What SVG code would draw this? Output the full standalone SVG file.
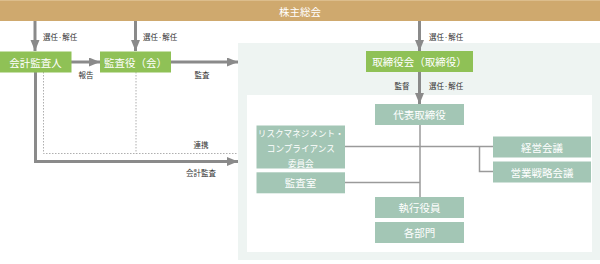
<svg xmlns="http://www.w3.org/2000/svg" width="600" height="264" viewBox="0 0 600 264">
<defs>
<marker id="ah" markerUnits="userSpaceOnUse" markerWidth="12" markerHeight="10" refX="11" refY="4.5" orient="auto">
<path d="M0,0 L11,4.5 L0,9 z" fill="#8a8a8a"/>
</marker>
<style>
.bt{font-family:"Noto Sans CJK JP","Noto Sans",sans-serif;fill:#fff;text-anchor:middle;dominant-baseline:central;font-size:10.5px}
.sm{font-size:8.6px}
.lb{font-family:"Noto Sans CJK JP","Noto Sans",sans-serif;fill:#333;font-size:7.5px;dominant-baseline:central}
.c{text-anchor:middle}
.g{fill:#8fc156}
.m{fill:#a3c6b5}
.arr{stroke:#8a8a8a;stroke-width:3;fill:none;marker-end:url(#ah)}
.dot{stroke:#9a9a9a;stroke-width:0.8;stroke-dasharray:1.5 1.5;fill:none}
.ln{stroke:#9a9a9a;stroke-width:1.5;fill:none}
</style>
</defs>
<rect width="600" height="264" fill="#fff"/>
<g id="panel">
<rect x="238" y="43" width="362" height="217" fill="#eef4f2"/>
<rect x="247" y="95" width="345" height="157" fill="#fff"/>
</g>
<g id="connectors">
<path class="arr" d="M35,21 V51"/>
<path class="arr" d="M135.5,21 V51"/>
<path class="arr" d="M419.5,21 V51"/>
<path class="arr" d="M71,62 H100"/>
<path class="arr" d="M171,62 H238"/>
<path class="arr" d="M419.5,72 V104"/>
<path class="dot" d="M43.5,72 V153.5 H238"/>
<path class="dot" d="M136,72 V153.5"/>
<path class="arr" d="M35.5,72 V161.5 H238"/>
<path class="ln" d="M420,125 V197"/>
<path class="ln" d="M345,146.5 H493"/>
<path class="ln" d="M345,182.5 H420"/>
<path class="ln" d="M479.5,146.5 V171.5 H493"/>
<text class="lb" x="43" y="36.5">選任·解任</text>
<text class="lb" x="143" y="36.5">選任·解任</text>
<text class="lb" x="429" y="36.5">選任·解任</text>
<text class="lb c" x="86" y="74">報告</text>
<text class="lb c" x="202" y="74">監査</text>
<text class="lb c" x="402" y="85">監督</text>
<text class="lb" x="429" y="85">選任·解任</text>
<text class="lb c" x="201" y="144">連携</text>
<text class="lb c" x="201" y="172">会計監査</text>
</g>
<g id="shareholders">
<rect x="0" y="0" width="600" height="21" fill="#cfa96e"/>
<rect x="0" y="0" width="600" height="1" fill="#dcbd8c"/>
<text class="bt" x="300" y="11">株主総会</text>
</g>
<g id="auditor">
<rect class="g" x="0" y="51.5" width="71.5" height="21"/>
<text class="bt" x="35.5" y="62">会計監査人</text>
</g>
<g id="kansayaku">
<rect class="g" x="100" y="51.5" width="71" height="21"/>
<text class="bt" x="135.5" y="62">監査役（会）</text>
</g>
<g id="board">
<rect class="g" x="366" y="51" width="107" height="21"/>
<text class="bt" x="419.5" y="61.5">取締役会（取締役）</text>
</g>
<g id="ceo">
<rect class="m" x="375" y="104" width="89" height="21"/>
<text class="bt" x="419.5" y="114.5">代表取締役</text>
</g>
<g id="risk">
<rect class="m" x="256.5" y="125.5" width="88.5" height="43"/>
<text class="bt sm" x="300.8" y="133.3">リスクマネジメント・</text>
<text class="bt sm" x="300.8" y="148">コンプライアンス</text>
<text class="bt sm" x="300.8" y="162.5">委員会</text>
</g>
<g id="audit-office">
<rect class="m" x="256.5" y="172.3" width="88.5" height="21"/>
<text class="bt" x="300.5" y="182.8">監査室</text>
</g>
<g id="mgmt">
<rect class="m" x="493" y="136.5" width="98" height="21"/>
<text class="bt" x="542" y="147">経営会議</text>
</g>
<g id="sales">
<rect class="m" x="493" y="161.5" width="98" height="21"/>
<text class="bt" x="542" y="172">営業戦略会議</text>
</g>
<g id="officers">
<rect class="m" x="375" y="197" width="89" height="21"/>
<text class="bt" x="419.5" y="207.5">執行役員</text>
</g>
<g id="depts">
<rect class="m" x="375" y="222" width="89" height="21"/>
<text class="bt" x="419.5" y="232.5">各部門</text>
</g>
</svg>
